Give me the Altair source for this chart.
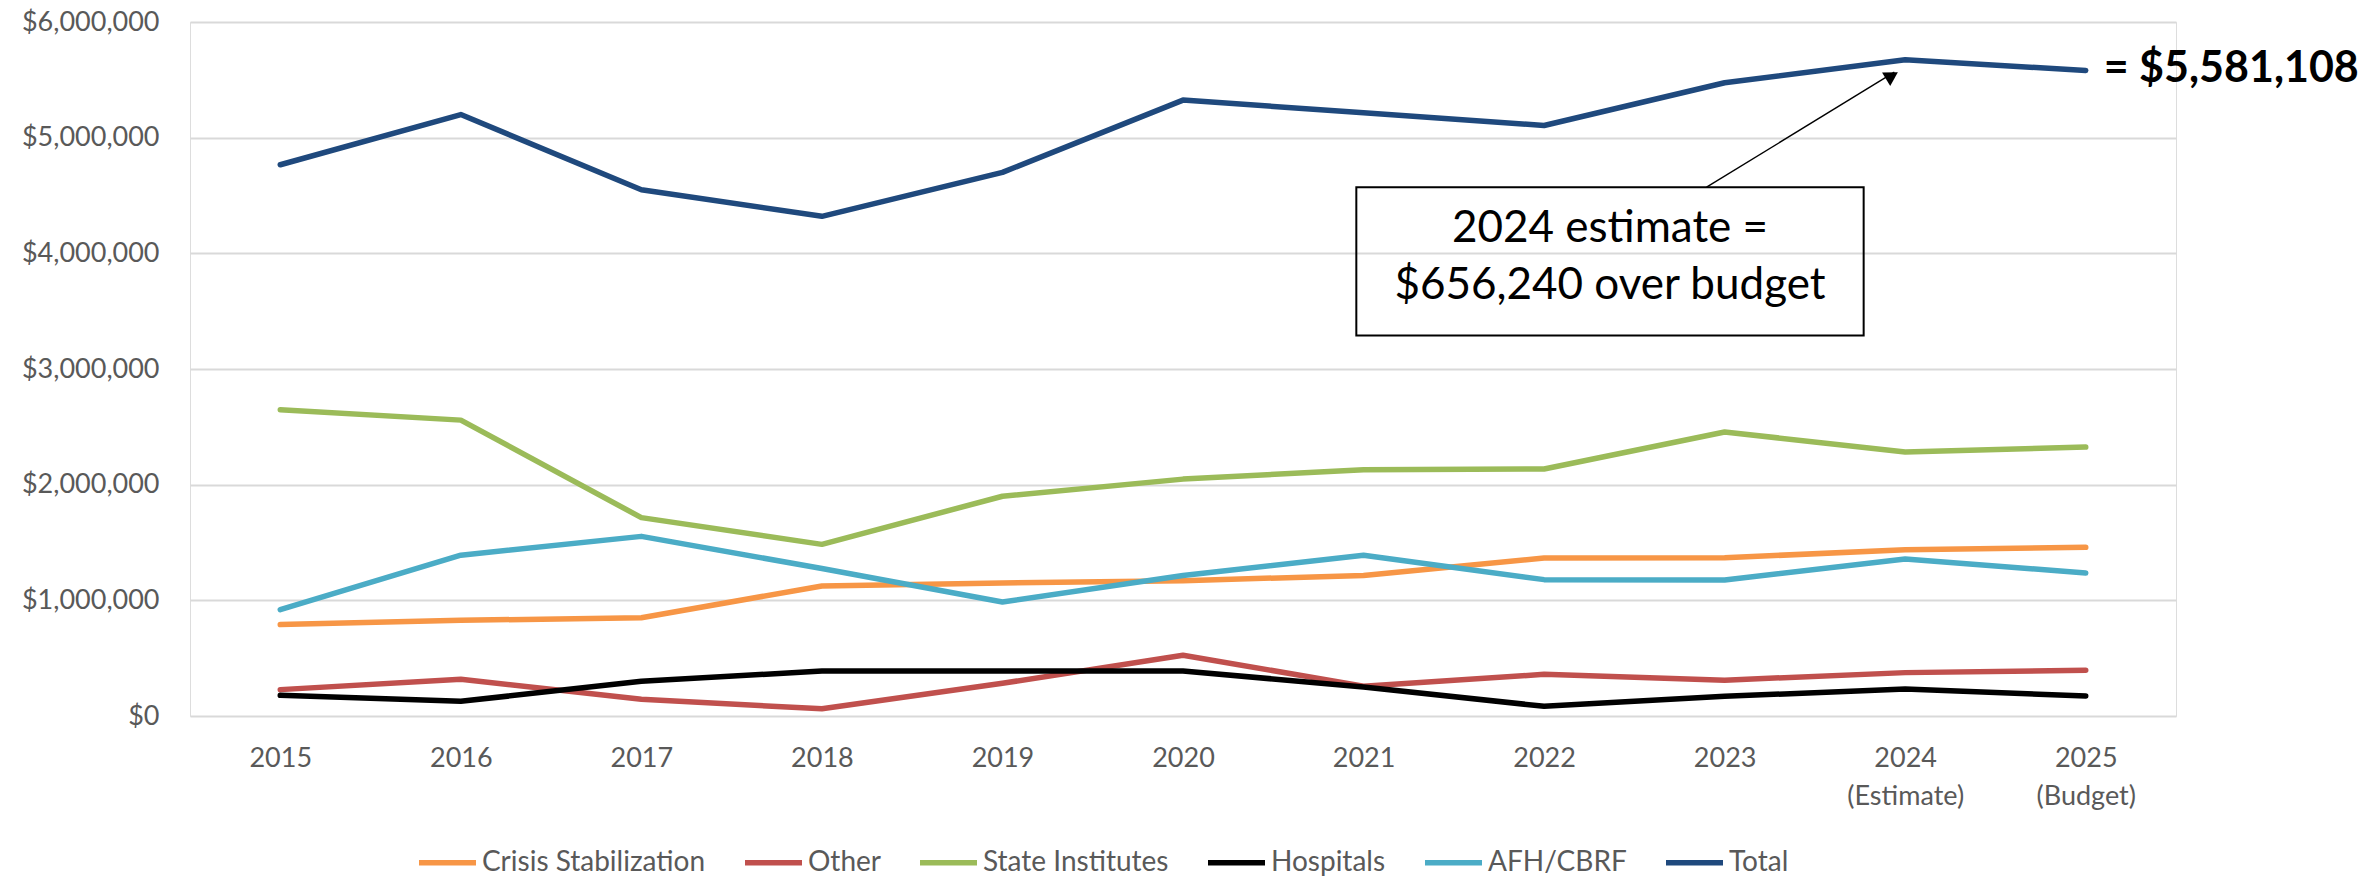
import altair as alt
import pandas as pd

# ---------------- data ----------------
years = [2015, 2016, 2017, 2018, 2019, 2020, 2021, 2022, 2023, 2024, 2025]
tick_labels = ["2015", "2016", "2017", "2018", "2019", "2020", "2021", "2022", "2023",
               "2024\n(Estimate)", "2025\n(Budget)"]

series_names = ["Crisis Stabilization", "Other", "State Institutes", "Hospitals", "AFH/CBRF", "Total"]
series_colors = ["#F79646", "#C0504D", "#9BBB59", "#000000", "#4BACC6", "#1F497D"]

crisis = [790000, 827000, 850000, 1124000, 1150000, 1170000, 1215000, 1366000, 1368000, 1438000, 1458000]
other = [228000, 318000, 144000, 62000, 283000, 525000, 258000, 360000, 310000, 375000, 395000]
state = [2648000, 2558000, 1715000, 1484000, 1900000, 2048000, 2130000, 2135000, 2455000, 2283000, 2325000]
hospitals = [179000, 127000, 300000, 389000, 390000, 390000, 250000, 84000, 170000, 233000, 173000]
afh = [920000, 1390000, 1553000, 1275000, 985000, 1215000, 1390000, 1179000, 1175000, 1358000, 1236000]
total = [4766000, 5200000, 4550000, 4320000, 4700000, 5325000, 5215000, 5105000, 5475000, 5673000, 5581108]

y_ticks = [0, 1000000, 2000000, 3000000, 4000000, 5000000, 6000000]

# annotation (in data units)
box_year = [2020.96]
box_year2 = [2023.77]
box_value = [4572000]
box_value2 = [3290000]
box_lines = ["2024 estimate =", "$656,240 over budget"]
box_line_year = [2022.365, 2022.365]
box_line_value = [4097000, 3608000]
arrow_year = [2022.90]
arrow_value = [4572000]
arrow_year2 = [2023.94]
arrow_value2 = [5566000]
arrowhead_year = [2023.927]
arrowhead_value = [5535000]
end_label = ["= $5,581,108"]
end_year = [2025]
end_value = [5581108]

FONT = "Lato"
GREY = "#595959"

# ---------------- tables ----------------
rows = []
for name, vals in zip(series_names, [crisis, other, state, hospitals, afh, total]):
    for yr, v in zip(years, vals):
        rows.append({"year": yr, "series": name, "value": v})
df = pd.DataFrame(rows)

box_df = pd.DataFrame({"year": box_year, "year2": box_year2, "value": box_value, "value2": box_value2})
boxtext_df = pd.DataFrame({"year": box_line_year, "value": box_line_value, "label": box_lines})
arrow_df = pd.DataFrame({"year": arrow_year, "year2": arrow_year2, "value": arrow_value, "value2": arrow_value2})
head_df = pd.DataFrame({"year": arrowhead_year, "value": arrowhead_value})
end_df = pd.DataFrame({"year": end_year, "value": end_value, "label": end_label})

parts = []
for yv, lab in zip(years, tick_labels):
    arr = "[" + ",".join("'" + l + "'" for l in lab.split("\n")) + "]"
    parts.append(f"datum.value == {yv} ? {arr}")
label_expr = " : ".join(parts) + " : ''"

xscale = alt.Scale(domain=[2014.5, 2025.5], nice=False, zero=False)
yscale = alt.Scale(domain=[0, 6000000], nice=False, zero=True)

x_axis = alt.Axis(values=years, labelExpr=label_expr, grid=False, ticks=False, domain=False,
                  title=None, labelFontSize=27, labelColor=GREY, labelFont=FONT,
                  labelPadding=29, labelLineHeight=38, labelFlush=False, labelOverlap=False)
y_axis = alt.Axis(values=y_ticks, format="$,.0f", grid=True, gridColor="#D9D9D9", gridWidth=2,
                  ticks=False, domain=False, title=None, labelFontSize=27, labelColor=GREY,
                  labelFont=FONT, labelPadding=31)

lines = alt.Chart(df).mark_line(strokeWidth=5.5, strokeCap="round", strokeJoin="round").encode(
    x=alt.X("year:Q", scale=xscale, axis=x_axis),
    y=alt.Y("value:Q", scale=yscale, axis=y_axis),
    color=alt.Color("series:N", sort=series_names,
                    scale=alt.Scale(domain=series_names, range=series_colors),
                    legend=alt.Legend(orient="none", direction="horizontal", title=None,
                                      legendX=226, legendY=809, symbolType="stroke",
                                      symbolStrokeWidth=5.5, symbolSize=3249,
                                      labelFontSize=28, labelFont=FONT, labelColor=GREY,
                                      labelLimit=600, labelOffset=3, columnPadding=28,
                                      padding=0)),
)

box = alt.Chart(box_df).mark_rect(fill=None, stroke="black", strokeWidth=2, fillOpacity=0).encode(
    x=alt.X("year:Q", scale=xscale), x2="year2:Q",
    y=alt.Y("value:Q", scale=yscale), y2="value2:Q",
)
boxtext = alt.Chart(boxtext_df).mark_text(font=FONT, fontSize=44, color="black",
                                           align="center", baseline="alphabetic").encode(
    x=alt.X("year:Q", scale=xscale), y=alt.Y("value:Q", scale=yscale), text="label:N"
)
arrow = alt.Chart(arrow_df).mark_rule(color="black", strokeWidth=1.4).encode(
    x=alt.X("year:Q", scale=xscale), x2="year2:Q",
    y=alt.Y("value:Q", scale=yscale), y2="value2:Q",
)
head = alt.Chart(head_df).mark_point(shape="triangle-up", size=250, angle=59, filled=True,
                                     color="black", opacity=1).encode(
    x=alt.X("year:Q", scale=xscale), y=alt.Y("value:Q", scale=yscale)
)
endtext = alt.Chart(end_df).mark_text(font=FONT, fontSize=43, fontWeight="bold", color="black",
                                      align="left", baseline="middle", dx=18, dy=-1).encode(
    x=alt.X("year:Q", scale=xscale), y=alt.Y("value:Q", scale=yscale), text="label:N"
)

chart = alt.layer(lines, box, arrow, head, boxtext, endtext).properties(
    width=1986, height=694,
    autosize=alt.AutoSizeParams(type="none"),
    padding={"left": 182, "top": 14, "right": 182, "bottom": 166},
).configure_view(stroke=None).configure(font=FONT)

chart.save("out.html", embed_options={"renderer": "svg", "actions": False})
